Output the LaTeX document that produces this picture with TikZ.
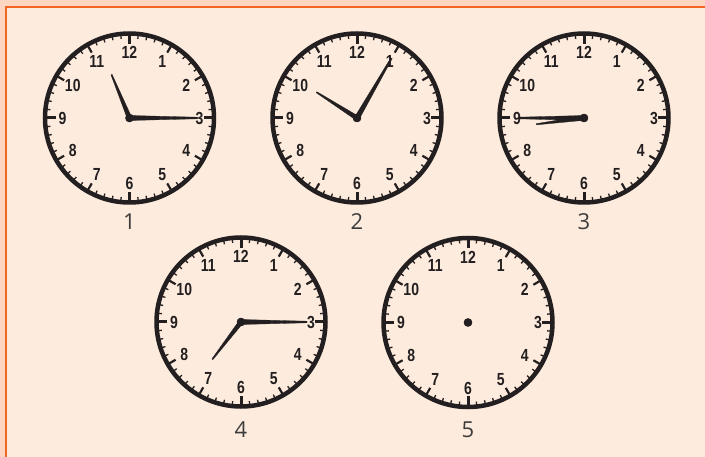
\documentclass[tikz,border=0pt]{standalone}
\usepackage{fontspec}
\usetikzlibrary{calc}
\newfontfamily\clockfont{Liberation Sans}[FakeStretch=0.8]
\newfontfamily\labfont{Open Sans}
\definecolor{bgin}{RGB}{253,235,221}
\definecolor{bgout}{RGB}{252,214,192}
\definecolor{framec}{RGB}{242,101,34}
\definecolor{ink}{RGB}{35,31,32}
\definecolor{labc}{RGB}{60,60,60}
\tikzset{
  rim/.style={draw=ink,line width=4.5pt},
  mtick/.style={draw=ink,line width=1.3pt},
  htick/.style={draw=ink,line width=2.2pt},
  qtick/.style={draw=ink,line width=3pt},
  numtxt/.style={font=\clockfont\bfseries\fontsize{17.5}{17.5}\selectfont,text=ink,inner sep=0pt},
  labtxt/.style={font=\labfont\fontsize{22}{22}\selectfont,text=labc,inner sep=0pt},
  handfill/.style={fill=ink,draw=ink,line width=0.3pt,line join=round}
}
% \clockface{name}{x}{y}{label}{label offset}
\newcommand\clockface[5]{%
  \coordinate (#1) at (#2,#3);
  \draw[rim] (#1) circle (84.5);
  \foreach \m in {0,...,59}{
    \pgfmathtruncatemacro\mm{mod(\m,5)}
    \ifnum\mm=0\relax\else
      \draw[mtick] ($(#1)+({\m*6-90}:84)$) -- ($(#1)+({\m*6-90}:79.5)$);
    \fi}
  \foreach \h in {1,2,4,5,7,8,10,11}{
    \draw[htick] ($(#1)+({\h*30-90}:84)$) -- ($(#1)+({\h*30-90}:75.5)$);}
  \foreach \h in {3,6,9,12}{
    \draw[qtick] ($(#1)+({\h*30-90}:85)$) -- ($(#1)+({\h*30-90}:74)$);}
  \foreach \h in {1,2,4,5,6,7,8,10,11,12}{
    \node[numtxt] (#1n\h) at ($(#1)+({\h*30-90}:65.5)$) {\h};}
  \node[numtxt] (#1n3) at ($(#1)+(70,0)$) {3};
  \node[numtxt] (#1n9) at ($(#1)+(-67,0)$) {9};
  \node[labtxt] (#1lab) at ($(#1)+(0,#5)$) {#4};
  \fill[ink] (#1) circle (4.2);
}
% \clockhand{center}{clock angle}{length}{base half width}{tip half width}
\newcommand\clockhand[5]{%
  \fill[handfill] ($(#1)+({#2}:#4)$) -- ($(#1)+({#2-90}:#3)+({#2}:#5)$)
     -- ($(#1)+({#2-90}:#3)+({#2}:-#5)$) -- ($(#1)+({#2}:-#4)$) -- cycle;
}
\begin{document}
\begin{tikzpicture}[x=1pt,y=-1pt]
\useasboundingbox (0,0) rectangle (705,457);
\fill[bgout] (0,0) rectangle (705,457);
\fill[bgin] (7,8) rectangle (705,457);
\draw[framec,line width=2pt] (6,457) -- (6,7) -- (705,7);
\clockface{ca}{129.5}{118}{1}{103.5}
\clockface{cb}{357}{118}{2}{103.5}
\clockface{cc}{584}{118}{3}{103.5}
\clockface{cd}{241}{322}{4}{107.5}
\clockface{ce}{468}{322.5}{5}{107.5}
% clock 1: 11:15
\clockhand{ca}{337.5}{47}{2.3}{0.6}
\clockhand{ca}{90}{68}{2.5}{0.8}
% clock 2: 10:05
\clockhand{cb}{302.5}{48}{2.3}{0.6}
\clockhand{cb}{30}{69}{2.5}{0.8}
% clock 3: 8:45
\clockhand{cc}{262.5}{48}{2.3}{0.6}
\clockhand{cc}{270}{66}{2.5}{0.8}
% clock 4: 7:15
\clockhand{cd}{217.5}{47}{2.3}{0.6}
\clockhand{cd}{90}{66}{2.5}{0.8}
\foreach \c in {ca,cb,cc,cd,ce}{\fill[ink] (\c) circle (4.2);}
\end{tikzpicture}
\end{document}
